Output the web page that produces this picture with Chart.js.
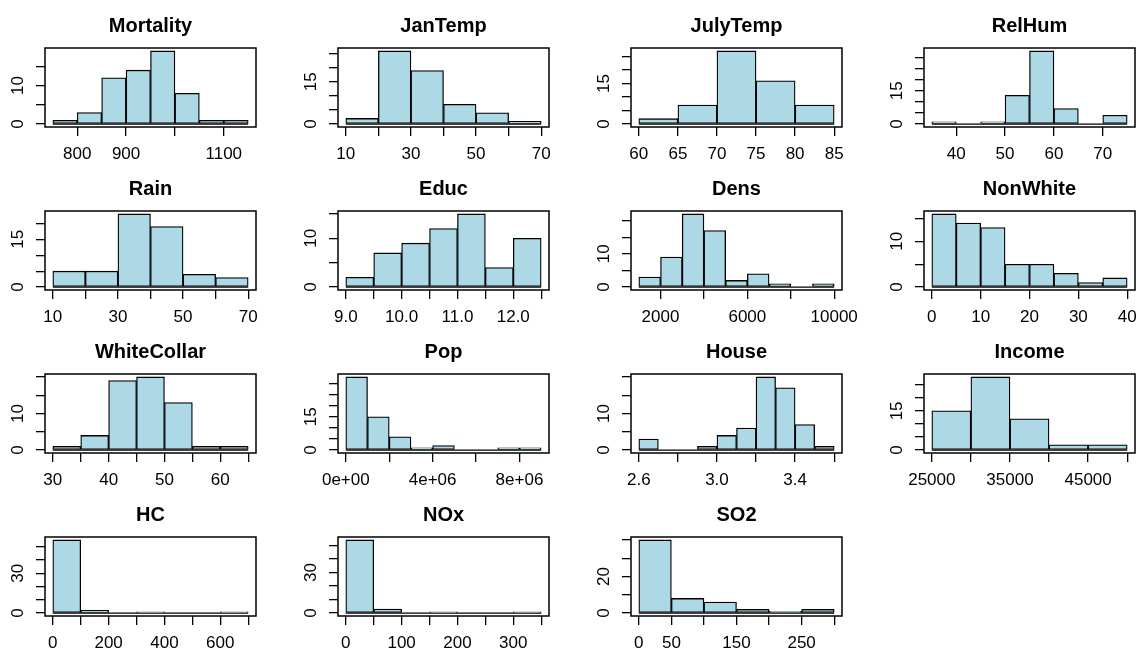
<!DOCTYPE html>
<html>
<head>
<meta charset="utf-8">
<script src="https://cdn.jsdelivr.net/npm/chart.js@4.4.1/dist/chart.umd.min.js"></script>
<style>
  html, body { margin: 0; padding: 0; background: #fff; overflow: hidden; }
  #grid { position: relative; width: 1144px; height: 651px; }
  .panel { position: absolute; width: 293px; height: 163px; }
</style>
</head>
<body>
<div id="grid"></div>
<script>
const FONT = '"Liberation Sans", Arial, Helvetica, sans-serif';
const FILL = "#add8e6", INK = "#000";

// breaks / counts / axis ticks for each histogram (59 cities)
const mortalityBreaks = [750, 800, 850, 900, 950, 1000, 1050, 1100, 1150];
const mortalityCounts = [1, 3, 12, 14, 19, 8, 1, 1];
const mortalityXTicks = [800, 900, 1000, 1100];
const mortalityXLabels = ["800", "900", "", "1100"];
const mortalityYTicks = [0, 5, 10, 15];
const mortalityYLabels = [0, 10];

const janTempBreaks = [10, 20, 30, 40, 50, 60, 70];
const janTempCounts = [2, 26, 19, 7, 4, 1];
const janTempXTicks = [10, 20, 30, 40, 50, 60, 70];
const janTempXLabels = ["10", "", "30", "", "50", "", "70"];
const janTempYTicks = [0, 5, 10, 15, 20, 25];
const janTempYLabels = [0, 15];

const julyTempBreaks = [60, 65, 70, 75, 80, 85];
const julyTempCounts = [2, 7, 27, 16, 7];
const julyTempXTicks = [60, 65, 70, 75, 80, 85];
const julyTempXLabels = ["60", "65", "70", "75", "80", "85"];
const julyTempYTicks = [0, 5, 10, 15, 20, 25];
const julyTempYLabels = [0, 15];

const relHumBreaks = [35, 40, 45, 50, 55, 60, 65, 70, 75];
const relHumCounts = [1, 0, 1, 13, 33, 7, 0, 4];
const relHumXTicks = [40, 50, 60, 70];
const relHumXLabels = ["40", "50", "60", "70"];
const relHumYTicks = [0, 5, 10, 15, 20, 25, 30];
const relHumYLabels = [0, 15];

const rainBreaks = [10, 20, 30, 40, 50, 60, 70];
const rainCounts = [5, 5, 23, 19, 4, 3];
const rainXTicks = [10, 20, 30, 40, 50, 60, 70];
const rainXLabels = ["10", "", "30", "", "50", "", "70"];
const rainYTicks = [0, 5, 10, 15, 20];
const rainYLabels = [0, 15];

const educBreaks = [9, 9.5, 10, 10.5, 11, 11.5, 12, 12.5];
const educCounts = [2, 7, 9, 12, 15, 4, 10];
const educXTicks = [9, 9.5, 10, 10.5, 11, 11.5, 12, 12.5];
const educXLabels = ["9.0", "", "10.0", "", "11.0", "", "12.0", ""];
const educYTicks = [0, 5, 10, 15];
const educYLabels = [0, 10];

const densBreaks = [1000, 2000, 3000, 4000, 5000, 6000, 7000, 8000, 9000, 10000];
const densCounts = [3, 9, 22, 17, 2, 4, 1, 0, 1];
const densXTicks = [2000, 4000, 6000, 8000, 10000];
const densXLabels = ["2000", "", "6000", "", "10000"];
const densYTicks = [0, 5, 10, 15, 20];
const densYLabels = [0, 10];

const nonWhiteBreaks = [0, 5, 10, 15, 20, 25, 30, 35, 40];
const nonWhiteCounts = [16, 14, 13, 5, 5, 3, 1, 2];
const nonWhiteXTicks = [0, 10, 20, 30, 40];
const nonWhiteXLabels = ["0", "10", "20", "30", "40"];
const nonWhiteYTicks = [0, 5, 10, 15];
const nonWhiteYLabels = [0, 10];

const whiteCollarBreaks = [30, 35, 40, 45, 50, 55, 60, 65];
const whiteCollarCounts = [1, 4, 19, 20, 13, 1, 1];
const whiteCollarXTicks = [30, 35, 40, 45, 50, 55, 60, 65];
const whiteCollarXLabels = ["30", "", "40", "", "50", "", "60", ""];
const whiteCollarYTicks = [0, 5, 10, 15, 20];
const whiteCollarYLabels = [0, 10];

const popBreaks = [0, 1e6, 2e6, 3e6, 4e6, 5e6, 6e6, 7e6, 8e6, 9e6];
const popCounts = [33, 15, 6, 1, 2, 0, 0, 1, 1];
const popXTicks = [0, 2e6, 4e6, 6e6, 8e6];
const popXLabels = ["0e+00", "", "4e+06", "", "8e+06"];
const popYTicks = [0, 5, 10, 15, 20, 25, 30];
const popYLabels = [0, 15];

const houseBreaks = [2.6, 2.7, 2.8, 2.9, 3.0, 3.1, 3.2, 3.3, 3.4, 3.5, 3.6];
const houseCounts = [3, 0, 0, 1, 4, 6, 20, 17, 7, 1];
const houseXTicks = [2.6, 2.8, 3.0, 3.2, 3.4, 3.6];
const houseXLabels = ["2.6", "", "3.0", "", "3.4", ""];
const houseYTicks = [0, 5, 10, 15, 20];
const houseYLabels = [0, 10];

const incomeBreaks = [25000, 30000, 35000, 40000, 45000, 50000];
const incomeCounts = [15, 28, 12, 2, 2];
const incomeXTicks = [25000, 30000, 35000, 40000, 45000, 50000];
const incomeXLabels = ["25000", "", "35000", "", "45000", ""];
const incomeYTicks = [0, 5, 10, 15, 20, 25];
const incomeYLabels = [0, 15];

const hcBreaks = [0, 100, 200, 300, 400, 500, 600, 700];
const hcCounts = [55, 2, 0, 1, 0, 0, 1];
const hcXTicks = [0, 100, 200, 300, 400, 500, 600, 700];
const hcXLabels = ["0", "", "200", "", "400", "", "600", ""];
const hcYTicks = [0, 10, 20, 30, 40, 50];
const hcYLabels = [0, 30];

const noxBreaks = [0, 50, 100, 150, 200, 250, 300, 350];
const noxCounts = [54, 3, 0, 1, 0, 0, 1];
const noxXTicks = [0, 50, 100, 150, 200, 250, 300, 350];
const noxXLabels = ["0", "", "100", "", "200", "", "300", ""];
const noxYTicks = [0, 10, 20, 30, 40, 50];
const noxYLabels = [0, 30];

const so2Breaks = [0, 50, 100, 150, 200, 250, 300];
const so2Counts = [40, 8, 6, 2, 1, 2];
const so2XTicks = [0, 50, 100, 150, 200, 250, 300];
const so2XLabels = ["0", "50", "", "150", "", "250", ""];
const so2YTicks = [0, 10, 20, 30, 40];
const so2YLabels = [0, 20];

const PANELS = [
  ["Mortality", mortalityBreaks, mortalityCounts, mortalityXTicks, mortalityXLabels, mortalityYTicks, mortalityYLabels],
  ["JanTemp", janTempBreaks, janTempCounts, janTempXTicks, janTempXLabels, janTempYTicks, janTempYLabels],
  ["JulyTemp", julyTempBreaks, julyTempCounts, julyTempXTicks, julyTempXLabels, julyTempYTicks, julyTempYLabels],
  ["RelHum", relHumBreaks, relHumCounts, relHumXTicks, relHumXLabels, relHumYTicks, relHumYLabels],
  ["Rain", rainBreaks, rainCounts, rainXTicks, rainXLabels, rainYTicks, rainYLabels],
  ["Educ", educBreaks, educCounts, educXTicks, educXLabels, educYTicks, educYLabels],
  ["Dens", densBreaks, densCounts, densXTicks, densXLabels, densYTicks, densYLabels],
  ["NonWhite", nonWhiteBreaks, nonWhiteCounts, nonWhiteXTicks, nonWhiteXLabels, nonWhiteYTicks, nonWhiteYLabels],
  ["WhiteCollar", whiteCollarBreaks, whiteCollarCounts, whiteCollarXTicks, whiteCollarXLabels, whiteCollarYTicks, whiteCollarYLabels],
  ["Pop", popBreaks, popCounts, popXTicks, popXLabels, popYTicks, popYLabels],
  ["House", houseBreaks, houseCounts, houseXTicks, houseXLabels, houseYTicks, houseYLabels],
  ["Income", incomeBreaks, incomeCounts, incomeXTicks, incomeXLabels, incomeYTicks, incomeYLabels],
  ["HC", hcBreaks, hcCounts, hcXTicks, hcXLabels, hcYTicks, hcYLabels],
  ["NOx", noxBreaks, noxCounts, noxXTicks, noxXLabels, noxYTicks, noxYLabels],
  ["SO2", so2Breaks, so2Counts, so2XTicks, so2XLabels, so2YTicks, so2YLabels],
];

const COL_W = 293, ROW_H = 163;

// frame, bold title and rotated y labels, the way base graphics lays them out
const panelDecor = {
  id: "panelDecor",
  afterDraw(chart, args, opts) {
    const { ctx, chartArea: a, scales } = chart;
    ctx.save();
    ctx.strokeStyle = INK;
    ctx.lineWidth = 1.5;
    ctx.strokeRect(a.left, a.top, a.right - a.left, a.bottom - a.top);
    ctx.fillStyle = INK;
    ctx.textAlign = "center";
    ctx.textBaseline = "middle";
    ctx.font = "bold 20px " + FONT;
    ctx.fillText(opts.title, (a.left + a.right) / 2, a.top - 22);
    ctx.font = "17px " + FONT;
    opts.yLabels.forEach(v => {
      ctx.save();
      ctx.translate(a.left - 27, scales.y.getPixelForValue(v));
      ctx.rotate(-Math.PI / 2);
      ctx.fillText(String(v), 0, 0);
      ctx.restore();
    });
    ctx.restore();
  }
};

function histogram(i, p){
  const [title, breaks, counts, xTicks, xLabels, yTicks, yLabels] = p;
  const box = document.createElement("div");
  box.className = "panel";
  box.style.left = (i % 4) * COL_W + "px";
  box.style.top = Math.floor(i / 4) * ROW_H + "px";
  const cv = document.createElement("canvas");
  cv.width = COL_W; cv.height = ROW_H;
  box.appendChild(cv);
  document.getElementById("grid").appendChild(box);

  const lo = breaks[0], hi = breaks[breaks.length - 1], top = Math.max(...counts);
  const padX = (hi - lo) * 0.04, padY = top * 0.04;
  const bars = counts.map((c, k) => ({ x: (breaks[k] + breaks[k + 1]) / 2, y: c }));

  new Chart(cv, {
    type: "bar",
    data: { datasets: [
      { type: "bar", data: bars, backgroundColor: FILL, borderColor: INK, borderWidth: 1.3,
        borderSkipped: false, barPercentage: 1, categoryPercentage: 1 },
      { type: "line", data: [{ x: lo, y: 0 }, { x: hi, y: 0 }], borderColor: INK,
        borderWidth: 1.3, pointRadius: 0 }
    ] },
    options: {
      responsive: false, animation: false, events: [],
      layout: { padding: { top: 48, right: 37, left: 0, bottom: 0 } },
      plugins: { legend: { display: false }, tooltip: { enabled: false },
                 panelDecor: { title, yLabels } },
      scales: {
        x: { type: "linear", min: lo - padX, max: hi + padX, offset: false,
          grid: { offset: false, drawOnChartArea: false, drawTicks: true, tickLength: 9, color: INK, lineWidth: 1.3 },
          border: { display: false },
          ticks: { color: INK, font: { family: FONT, size: 17 }, padding: 8, maxRotation: 0, autoSkip: false,
                   callback: (v, k) => xLabels[k] },
          afterBuildTicks: s => { s.ticks = xTicks.map(v => ({ value: v })); },
          afterFit: s => { s.height = 36; s.paddingLeft = 0; s.paddingRight = 0; } },
        y: { type: "linear", min: -padY, max: top + padY,
          grid: { drawOnChartArea: false, drawTicks: true, tickLength: 9, color: INK, lineWidth: 1.3 },
          border: { display: false },
          ticks: { display: false },
          afterBuildTicks: s => { s.ticks = yTicks.map(v => ({ value: v })); },
          afterFit: s => { s.width = 45; s.paddingTop = 0; s.paddingBottom = 0; } }
      }
    },
    plugins: [panelDecor]
  });
}

PANELS.forEach((p, i) => histogram(i, p));
</script>
</body>
</html>
